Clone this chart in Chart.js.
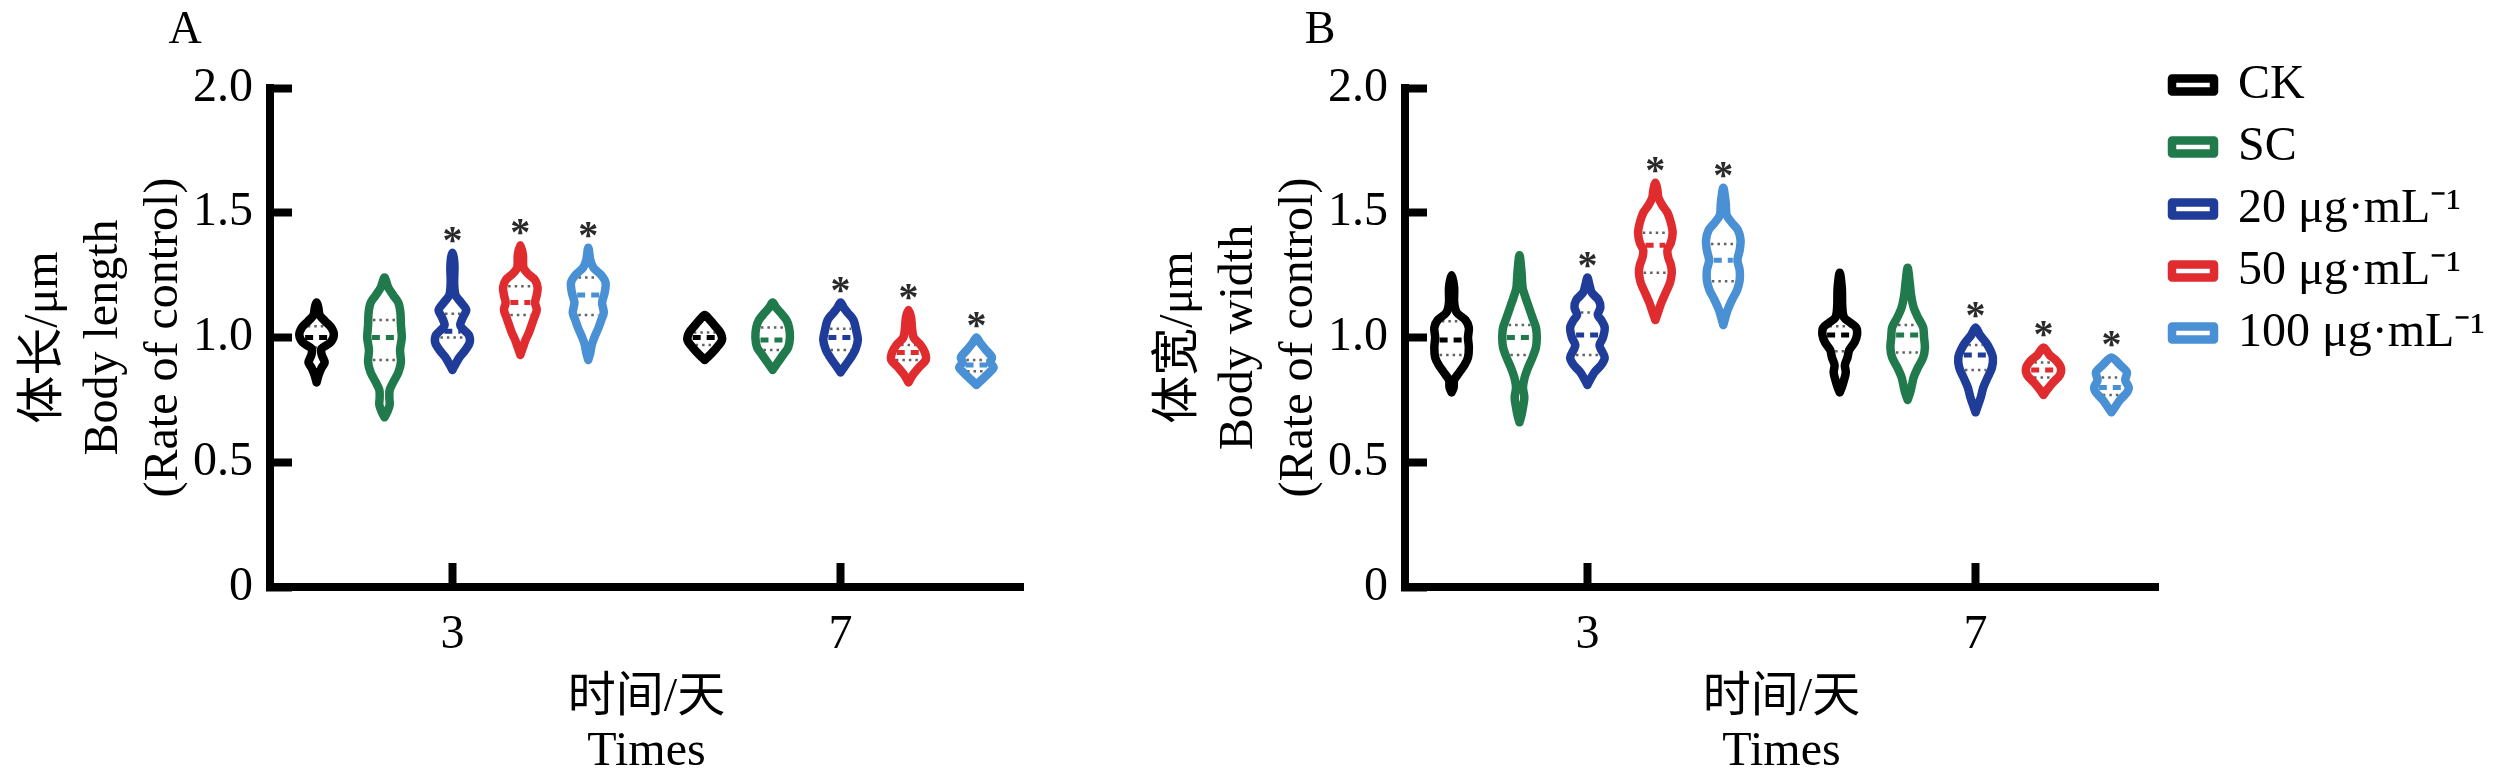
<!DOCTYPE html>
<html>
<head>
<meta charset="utf-8">
<script src="https://cdn.jsdelivr.net/npm/chart.js@4.4.1/dist/chart.umd.min.js"></script>
<style>
  html, body { margin: 0; padding: 0; background: #fff; }
  #wrap { position: relative; width: 2520px; height: 779px; overflow: hidden; }
  canvas { position: absolute; top: 0; }
  #chartA { left: 0; }
  #chartB { left: 1135px; }
</style>
</head>
<body>
<div id="wrap">
  <canvas id="chartA" width="1135" height="779"></canvas>
  <canvas id="chartB" width="1385" height="779"></canvas>
</div>
<script>
'use strict';
const days = ['3', '7'];
const dayPos = [1, 2];
const groups = ['CK', 'SC', '20 μg·mL⁻¹', '50 μg·mL⁻¹', '100 μg·mL⁻¹'];
const colors = ['#000000', '#217a4b', '#1f3c98', '#e02b2f', '#4a90d4'];
const yTickLabels = ['0', '0.5', '1.0', '1.5', '2.0'];

// violin outlines: [value, relative width] from bottom tip to top tip, [day 3, day 7]
const lengthCK = [
  [[0.82,0],[0.85,0.12],[0.88,0.3],[0.90,0.47],[0.93,0.3],[0.955,0.28],[0.98,0.8],[1.01,1.0],[1.04,0.85],[1.065,0.5],[1.09,0.18],[1.12,0.1],[1.14,0]],
  [[0.91,0],[0.93,0.3],[0.96,0.7],[0.99,1.0],[1.02,0.9],[1.05,0.55],[1.07,0.3],[1.09,0]]
];
const lengthSC = [
  [[0.68,0],[0.70,0.15],[0.73,0.3],[0.76,0.28],[0.79,0.3],[0.82,0.5],[0.86,0.8],[0.90,0.95],[0.95,0.9],[1.00,1.0],[1.05,0.95],[1.10,0.92],[1.14,0.8],[1.17,0.5],[1.20,0.22],[1.24,0]],
  [[0.87,0],[0.90,0.3],[0.93,0.6],[0.96,0.9],[1.00,1.0],[1.04,0.95],[1.07,0.8],[1.10,0.45],[1.12,0.2],[1.14,0]]
];
const length20 = [
  [[0.87,0],[0.89,0.15],[0.92,0.4],[0.95,0.75],[0.98,1.0],[1.01,0.95],[1.035,0.6],[1.05,0.45],[1.08,0.6],[1.11,0.8],[1.14,0.5],[1.17,0.18],[1.22,0.1],[1.28,0.12],[1.32,0.08],[1.34,0]],
  [[0.86,0],[0.89,0.3],[0.92,0.6],[0.95,0.85],[0.99,1.0],[1.03,0.9],[1.07,0.75],[1.10,0.4],[1.12,0.18],[1.14,0]]
];
const length50 = [
  [[0.93,0],[0.96,0.15],[0.99,0.3],[1.02,0.5],[1.05,0.65],[1.08,0.8],[1.11,0.95],[1.14,0.85],[1.17,0.95],[1.20,1.0],[1.23,0.85],[1.255,0.45],[1.28,0.18],[1.33,0.15],[1.37,0]],
  [[0.82,0],[0.85,0.25],[0.88,0.6],[0.91,1.0],[0.94,0.95],[0.97,0.7],[1.00,0.3],[1.04,0.2],[1.08,0.15],[1.11,0]]
];
const length100 = [
  [[0.91,0],[0.94,0.12],[0.97,0.2],[1.00,0.35],[1.04,0.6],[1.07,0.75],[1.10,0.9],[1.14,0.8],[1.18,0.95],[1.22,1.0],[1.25,0.75],[1.28,0.3],[1.31,0.12],[1.36,0]],
  [[0.81,0],[0.83,0.3],[0.86,0.75],[0.88,1.0],[0.90,0.8],[0.92,0.9],[0.95,0.55],[0.98,0.2],[1.00,0]]
];
const lengthMedian = [[1.00, 1.00], [1.00, 0.99], [1.025, 1.00], [1.14, 0.94], [1.17, 0.89]];
const lengthQ1 = [[0.96, 0.97], [0.91, 0.95], [1.00, 0.95], [1.09, 0.91], [1.09, 0.865]];
const lengthQ3 = [[1.045, 1.02], [1.07, 1.04], [1.095, 1.035], [1.205, 0.97], [1.24, 0.91]];
const lengthStars = [[0, 0], [0, 0], [1, 1], [1, 1], [1, 1]];

const widthCK = [
  [[0.78,0],[0.80,0.12],[0.83,0.15],[0.86,0.45],[0.89,0.75],[0.92,0.95],[0.96,1.0],[1.00,0.95],[1.04,1.0],[1.07,0.8],[1.10,0.3],[1.14,0.15],[1.20,0.15],[1.25,0]],
  [[0.78,0],[0.80,0.12],[0.83,0.25],[0.86,0.35],[0.89,0.3],[0.92,0.45],[0.95,0.55],[0.98,0.85],[1.01,1.0],[1.04,0.95],[1.06,0.6],[1.08,0.25],[1.12,0.15],[1.20,0.12],[1.26,0]]
];
const widthSC = [
  [[0.66,0],[0.69,0.12],[0.72,0.2],[0.76,0.28],[0.80,0.2],[0.84,0.3],[0.88,0.5],[0.92,0.75],[0.96,0.95],[1.00,1.0],[1.04,0.95],[1.08,0.75],[1.12,0.55],[1.16,0.35],[1.20,0.18],[1.26,0.12],[1.33,0]],
  [[0.75,0],[0.78,0.15],[0.81,0.25],[0.84,0.35],[0.88,0.6],[0.92,0.9],[0.96,1.0],[1.00,0.95],[1.04,0.9],[1.08,0.6],[1.12,0.35],[1.17,0.2],[1.22,0.12],[1.28,0]]
];
const width20 = [
  [[0.81,0],[0.83,0.15],[0.86,0.4],[0.89,0.8],[0.92,1.0],[0.95,0.8],[0.97,0.7],[1.00,0.9],[1.04,1.0],[1.07,0.8],[1.09,0.6],[1.12,0.75],[1.15,0.65],[1.18,0.25],[1.21,0.12],[1.24,0]],
  [[0.70,0],[0.73,0.15],[0.76,0.3],[0.80,0.45],[0.84,0.7],[0.88,0.95],[0.92,1.0],[0.95,0.85],[0.98,0.6],[1.01,0.25],[1.04,0]]
];
const width50 = [
  [[1.07,0],[1.10,0.15],[1.14,0.35],[1.18,0.6],[1.22,0.85],[1.26,0.95],[1.29,0.9],[1.32,0.75],[1.35,0.7],[1.38,0.9],[1.42,1.0],[1.46,0.9],[1.50,0.7],[1.53,0.4],[1.56,0.18],[1.59,0.12],[1.62,0]],
  [[0.77,0],[0.79,0.2],[0.82,0.55],[0.85,0.95],[0.88,1.0],[0.91,0.7],[0.93,0.35],[0.96,0]]
];
const width100 = [
  [[1.05,0],[1.08,0.12],[1.11,0.25],[1.15,0.5],[1.19,0.8],[1.23,0.95],[1.27,0.95],[1.31,0.82],[1.35,0.95],[1.39,1.0],[1.43,0.85],[1.46,0.5],[1.49,0.2],[1.54,0.14],[1.60,0]],
  [[0.70,0],[0.72,0.2],[0.75,0.5],[0.78,0.9],[0.80,1.0],[0.83,0.8],[0.86,0.9],[0.89,0.5],[0.92,0]]
];
const widthMedian = [[0.99, 1.01], [1.00, 1.01], [1.01, 0.93], [1.37, 0.87], [1.31, 0.80]];
const widthQ1 = [[0.93, 0.945], [0.93, 0.94], [0.93, 0.87], [1.26, 0.84], [1.225, 0.77]];
const widthQ3 = [[1.065, 1.045], [1.05, 1.05], [1.10, 0.97], [1.42, 0.90], [1.375, 0.84]];
const widthStars = [[0, 0], [0, 0], [1, 1], [1, 1], [1, 1]];

const lengthShapes = [lengthCK, lengthSC, length20, length50, length100];
const widthShapes = [widthCK, widthSC, width20, width50, width100];

Chart.defaults.font.family = "'Liberation Serif', 'Noto Sans CJK SC', serif";
Chart.defaults.color = '#000';

const groupGap = 0.175;   // distance between violins of one day, in x units
const halfW = 0.0445;     // half width of a violin at density 1
const inset = 0.012;      // keeps cross lines inside the outline stroke

function xOf(g, d) {
  return dayPos[d] + (g - 2) * groupGap;
}

function halfAt(shape, v) {
  for (let i = 1; i < shape.length; i++) {
    if (v <= shape[i][0]) {
      let a = shape[i - 1], b = shape[i];
      return a[1] + (b[1] - a[1]) * (v - a[0]) / (b[0] - a[0]);
    }
  }
  return 0;
}

function outline(shape, g, d) {
  let cx = xOf(g, d);
  let pts = shape.map(p => ({x: cx + p[1] * halfW, y: p[0]}));
  for (let i = shape.length - 2; i >= 0; i--) {
    pts.push({x: cx - shape[i][1] * halfW, y: shape[i][0]});
  }
  return pts;
}

function crossLines(shapes, levels, g) {
  let pts = [];
  shapes.forEach((shape, d) => {
    let cx = xOf(g, d);
    let v = levels[g][d];
    let w = Math.max(0, halfAt(shape, v) * halfW - inset);
    pts.push({x: cx - w, y: v}, {x: cx + w, y: v}, {x: cx, y: null});
  });
  return pts;
}

function buildDatasets(shapes, med, q1, q3) {
  let outlines = [], medians = [], quarts = [];
  days.forEach((day, d) => {
    groups.forEach((name, g) => {
      outlines.push({
        label: name,
        data: outline(shapes[g][d], g, d),
        borderColor: colors[g],
        backgroundColor: '#ffffff',
        borderWidth: 8.5,
        borderJoinStyle: 'round',
        borderCapStyle: 'round',
        tension: 0.3
      });
    });
  });
  groups.forEach((name, g) => {
    medians.push({
      label: name + ' median',
      data: crossLines(shapes[g], med, g),
      borderColor: colors[g],
      borderWidth: 5,
      borderDash: [8, 6],
      tension: 0
    });
    quarts.push({
      label: name + ' quartiles',
      data: crossLines(shapes[g], q1, g).concat(crossLines(shapes[g], q3, g)),
      borderColor: 'rgba(70,70,70,0.85)',
      borderWidth: 2.5,
      borderDash: [2.5, 4],
      tension: 0
    });
  });
  return outlines.concat(medians, quarts).map(ds => Object.assign(ds, {
    showLine: true, fill: false, pointRadius: 0, pointHoverRadius: 0, spanGaps: false, clip: false
  }));
}

// asterisks over significant groups and the panel letter
const marksPlugin = {
  id: 'marks',
  afterDatasetsDraw(chart, args, opts) {
    let ctx = chart.ctx;
    let x = chart.scales.x, y = chart.scales.y;
    ctx.save();
    ctx.fillStyle = '#2a2a2a';
    ctx.font = "bold 40px 'Liberation Serif'";
    ctx.textAlign = 'center';
    ctx.textBaseline = 'alphabetic';
    opts.stars.forEach((row, g) => row.forEach((on, d) => {
      if (!on) return;
      let shape = opts.shapes[g][d];
      let top = shape[shape.length - 1][0];
      ctx.fillText('*', x.getPixelForValue(xOf(g, d)), y.getPixelForValue(top) - 20 + 20);
    }));
    ctx.fillStyle = '#000';
    ctx.font = "46px 'Liberation Serif'";
    ctx.textBaseline = 'middle';
    ctx.fillText(opts.panel, 185, 31);
    ctx.restore();
  }
};

function makeChart(id, panel, shapes, med, q1, q3, stars, yTitle, showLegend) {
  return new Chart(document.getElementById(id), {
    type: 'scatter',
    data: { datasets: buildDatasets(shapes, med, q1, q3) },
    options: {
      responsive: false,
      animation: false,
      events: [],
      layout: { padding: { left: 0, top: showLegend ? 47 : 88, right: showLegend ? 0 : 112, bottom: 0 } },
      plugins: {
        legend: {
          display: showLegend,
          position: 'right',
          align: 'start',
          labels: {
            boxWidth: 42,
            boxHeight: 13,
            padding: 14,
            color: '#000',
            font: { size: 48 },
            filter: item => item.datasetIndex < groups.length
          }
        },
        title: {
          display: showLegend,
          text: '',
          fullSize: false,
          font: { size: 9, lineHeight: 1 },
          padding: { top: 0, bottom: 32 }
        },
        tooltip: { enabled: false },
        marks: { panel: panel, shapes: shapes, stars: stars }
      },
      scales: {
        x: {
          type: 'linear',
          min: 0.53,
          max: 2.47,
          afterBuildTicks: s => { s.ticks = dayPos.map(v => ({value: v})); },
          afterFit: s => { s.height = 192; },
          ticks: {
            callback: (v, i) => days[i],
            color: '#000',
            font: { size: 48 },
            padding: 44,
            maxRotation: 0,
            autoSkip: false
          },
          grid: { drawOnChartArea: false, tickLength: -24, tickWidth: 8, tickColor: '#000' },
          border: { display: true, width: 8, color: '#000' },
          title: {
            display: true,
            text: ['时间/天', 'Times'],
            color: '#000',
            font: { size: 48, lineHeight: 1.125 },
            padding: { top: 0, bottom: 0 }
          }
        },
        y: {
          min: 0,
          max: 2,
          afterFit: s => { s.width = 270; },
          ticks: {
            stepSize: 0.5,
            callback: (v, i) => yTickLabels[i],
            color: '#000',
            font: { size: 48 },
            padding: 39
          },
          grid: { drawOnChartArea: false, tickLength: -22, tickWidth: 8, tickColor: '#000' },
          border: { display: true, width: 8, color: '#000' },
          title: {
            display: true,
            text: yTitle,
            color: '#000',
            font: { size: 48, lineHeight: 1.25 },
            padding: { top: 14, bottom: 0 }
          }
        }
      }
    },
    plugins: [marksPlugin]
  });
}

let chartA = makeChart('chartA', 'A', lengthShapes, lengthMedian, lengthQ1, lengthQ3, lengthStars,
  ['体长/μm', 'Body length', '(Rate of control)'], false);
let chartB = makeChart('chartB', 'B', widthShapes, widthMedian, widthQ1, widthQ3, widthStars,
  ['体宽/μm', 'Body width', '(Rate of control)'], true);

// line the plot area of B up with A, the legend keeps its width
let extra = chartB.chartArea.right - chartA.chartArea.right;
chartB.options.layout.padding = { left: 0, top: 47, right: Math.max(0, extra), bottom: 0 };
chartB.update();
</script>
</body>
</html>
